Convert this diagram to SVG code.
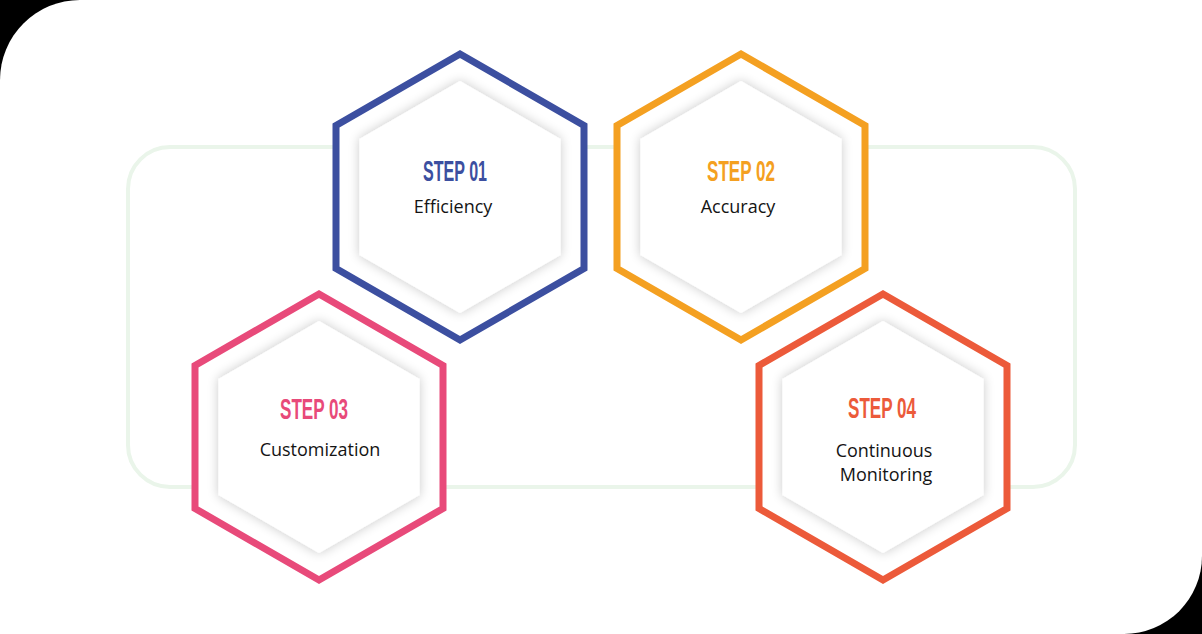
<svg xmlns="http://www.w3.org/2000/svg" width="1202" height="634" viewBox="0 0 1202 634">
<defs>
<style>
.outer{fill:#ffffff;stroke-width:7;stroke-linejoin:miter}
.inner{fill:#ffffff;filter:url(#sh)}
.step{font-family:"Liberation Sans Narrow","Liberation Sans",Arial,sans-serif;font-weight:bold;font-size:29px;text-anchor:middle}
.lbl{font-family:"Open Sans","Noto Sans",sans-serif;font-size:18px;fill:#141414;text-anchor:middle}
</style>
<filter id="sh" x="-30%" y="-30%" width="160%" height="160%">
<feGaussianBlur in="SourceAlpha" stdDeviation="6"/>
<feComponentTransfer><feFuncA type="linear" slope="0.22"/></feComponentTransfer>
<feMerge><feMergeNode/><feMergeNode in="SourceGraphic"/></feMerge>
</filter>
<path id="hexO" d="M0,-143 L124,-71.5 L124,71.5 L0,143 L-124,71.5 L-124,-71.5 Z"/>
<path id="hexI" d="M0,-116 L100.5,-58 L100.5,58 L0,116 L-100.5,58 L-100.5,-58 Z"/>
</defs>
<rect x="0" y="0" width="1202" height="634" fill="#000000"/>
<path d="M80,0 H1202 V556 A78,78 0 0 1 1124,634 H0 V80 A80,80 0 0 1 80,0 Z" fill="#ffffff"/>
<g id="connectors">
<rect x="128" y="147" width="947" height="340" rx="42" ry="42" fill="none" stroke="#eaf5ea" stroke-width="4"/>
</g>
<g id="step1" transform="translate(460,197)">
<use href="#hexO" class="outer" stroke="#3c4fa0"/>
<use href="#hexI" class="inner"/>
<text class="step" x="-5" y="-16" fill="#3c4fa0" textLength="64" lengthAdjust="spacingAndGlyphs">STEP 01</text>
<text class="lbl" x="-7" y="16">Efficiency</text>
</g>
<g id="step2" transform="translate(741,197)">
<use href="#hexO" class="outer" stroke="#f4a021"/>
<use href="#hexI" class="inner"/>
<text class="step" x="0" y="-16" fill="#f4a021" textLength="68" lengthAdjust="spacingAndGlyphs">STEP 02</text>
<text class="lbl" x="-3" y="16">Accuracy</text>
</g>
<g id="step3" transform="translate(319,437)">
<use href="#hexO" class="outer" stroke="#e84a7a"/>
<use href="#hexI" class="inner"/>
<text class="step" x="-5" y="-18" fill="#e84a7a" textLength="68" lengthAdjust="spacingAndGlyphs">STEP 03</text>
<text class="lbl" x="1" y="19">Customization</text>
</g>
<g id="step4" transform="translate(883,437)">
<use href="#hexO" class="outer" stroke="#ec5a3a"/>
<use href="#hexI" class="inner"/>
<text class="step" x="-1" y="-19" fill="#ec5a3a" textLength="68" lengthAdjust="spacingAndGlyphs">STEP 04</text>
<text class="lbl" x="1" y="20">Continuous</text>
<text class="lbl" x="3" y="44">Monitoring</text>
</g>
</svg>
